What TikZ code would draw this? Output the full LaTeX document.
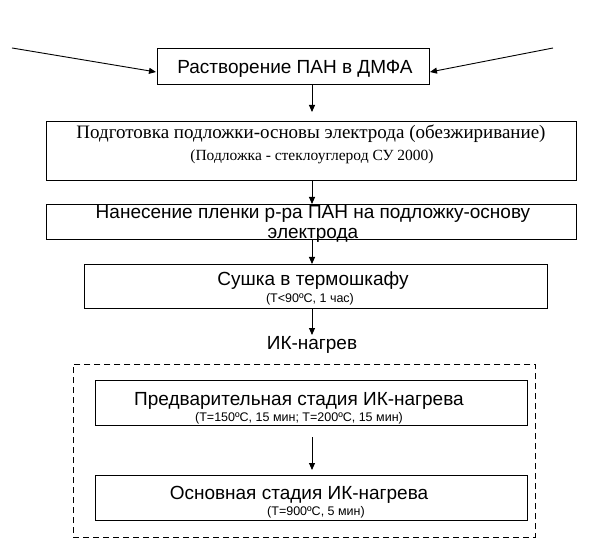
\documentclass[tikz,border=0pt]{standalone}
\usepackage{fontspec}
\setmainfont{Liberation Serif}
\newfontfamily\arial{Liberation Sans}
\usetikzlibrary{arrows.meta,calc}
\begin{document}
\begin{tikzpicture}[x=1pt,y=-1pt,
  boxst/.style={draw,line width=0.9pt,inner sep=0pt,anchor=north west},
  big/.style={font=\arial\fontsize{19}{21}\selectfont,inner sep=0pt,anchor=base},
  small/.style={font=\arial\fontsize{12.5}{14}\selectfont,inner sep=0pt,anchor=base},
  sbig/.style={font=\fontsize{19}{21}\selectfont,inner sep=0pt,anchor=base},
  ssmall/.style={font=\fontsize{15.5}{17}\selectfont,inner sep=0pt,anchor=base},
  arr/.style={line width=0.9pt,-{Triangle[length=7pt,width=6pt]}}]
\useasboundingbox (0,0) rectangle (613,553);
% boxes
\node[boxst,minimum width=272pt,minimum height=36pt] (b1) at (157,48) {};
\node[boxst,minimum width=530pt,minimum height=59pt] (b2) at (46,121) {};
\node[boxst,minimum width=530pt,minimum height=35pt] (b3) at (46,204) {};
\node[boxst,minimum width=463pt,minimum height=44pt] (b4) at (84,264) {};
\node[boxst,minimum width=432pt,minimum height=45pt] (b5) at (95,380) {};
\node[boxst,minimum width=432pt,minimum height=45pt] (b6) at (95,475) {};
\node[draw,line width=0.9pt,dash pattern=on 6pt off 4pt,inner sep=0pt,anchor=north west,minimum width=462pt,minimum height=173pt] (grp) at (73,364) {};
% texts
\node[big] (t1) at (295,74) {Растворение ПАН в ДМФА};
\node[sbig] (t2a) at (311,139) {Подготовка подложки-основы электрода (обезжиривание)};
\node[ssmall] (t2b) at (312,161) {(Подложка - стеклоуглерод СУ 2000)};
\node[big] (t3a) at (313,219) {Нанесение пленки р-ра ПАН на подложку-основу};
\node[big] (t3b) at (313,239) {электрода};
\node[big] (t4a) at (313,286) {Сушка в термошкафу};
\node[small] (t4b) at (310,303) {(Т<90ºС, 1 час)};
\node[big] (ik) at (312,349) {ИК-нагрев};
\node[big] (t5a) at (299,405) {Предварительная стадия ИК-нагрева};
\node[small] (t5b) at (299,421) {(Т=150ºС, 15 мин; Т=200ºС, 15 мин)};
\node[big] (t6a) at (299,499) {Основная стадия ИК-нагрева};
\node[small] (t6b) at (316,515) {(Т=900ºС, 5 мин)};
% coordinates
\coordinate (x) at (312,0);
\coordinate (a1) at (312,112);
\coordinate (lin) at (12,48);
\coordinate (lend) at (156,72);
\coordinate (rin) at (553,48);
\coordinate (rend) at (430,72);
\coordinate (ikt) at (312,335);
\coordinate (a5s) at (312,437);
\coordinate (a5e) at (312,470);
% connectors
\draw[arr] (lin) -- (lend);
\draw[arr] (rin) -- (rend);
\draw[arr] (b1.south -| x) -- (a1);
\draw[arr] (b2.south -| x) -- (b3.north -| x);
\draw[arr] (b3.south -| x) -- (b4.north -| x);
\draw[arr] (b4.south -| x) -- (ikt);
\draw[arr] (a5s) -- (a5e);
\end{tikzpicture}
\end{document}
